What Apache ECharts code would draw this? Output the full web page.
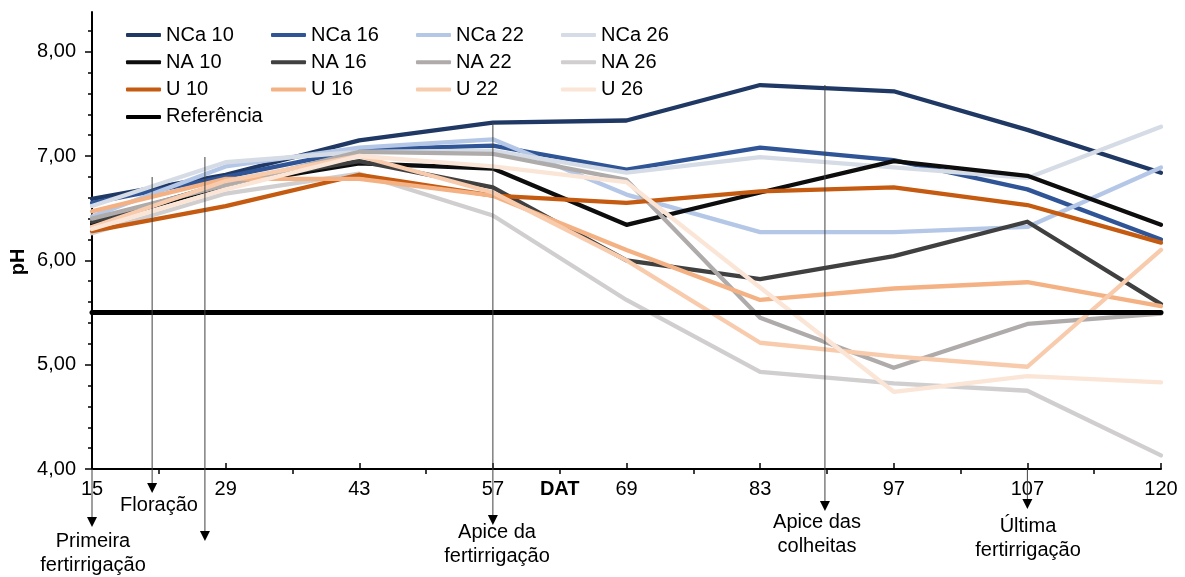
<!DOCTYPE html>
<html><head><meta charset="utf-8">
<script src="https://cdn.jsdelivr.net/npm/echarts@6/dist/echarts.min.js"></script>
<style>html,body{margin:0;padding:0;background:#fff}#c{width:1185px;height:577px}</style>
</head><body><div id="c"></div>
<script>
// ---- data ----
const tickLabels = ['15','','29','','43','','57','DAT','69','','83','','97','','107','','120'];
const days = [15, 29, 43, 57, 69, 83, 97, 107, 120];
const yTickValues = [4, 5, 6, 7, 8];

const NCa_10 = [6.59, 6.82, 7.15, 7.32, 7.34, 7.68, 7.62, 7.25, 6.84];
const NCa_16 = [6.55, 6.80, 7.06, 7.10, 6.87, 7.08, 6.96, 6.68, 6.20];
const NCa_22 = [6.42, 6.90, 7.08, 7.16, 6.63, 6.27, 6.27, 6.32, 6.89];
const NCa_26 = [6.52, 6.94, 7.04, 7.05, 6.84, 6.99, 6.89, 6.79, 7.28];
const NA_10  = [6.35, 6.72, 6.93, 6.88, 6.34, 6.65, 6.95, 6.81, 6.34];
const NA_16  = [6.37, 6.74, 6.95, 6.70, 6.00, 5.82, 6.04, 6.37, 5.58];
const NA_22  = [6.40, 6.72, 7.04, 7.02, 6.77, 5.45, 4.97, 5.39, 5.49];
const NA_26  = [6.26, 6.64, 6.83, 6.43, 5.62, 4.93, 4.82, 4.75, 4.13];
const U_10   = [6.28, 6.52, 6.82, 6.62, 6.55, 6.66, 6.70, 6.53, 6.17];
const U_16   = [6.47, 6.78, 6.78, 6.62, 6.10, 5.62, 5.73, 5.79, 5.56];
const U_22   = [6.32, 6.76, 7.00, 6.65, 6.00, 5.21, 5.08, 4.98, 6.10];
const U_26   = [6.30, 6.68, 7.00, 6.90, 6.75, 5.74, 4.74, 4.89, 4.83];
const Referencia = [5.5, 5.5, 5.5, 5.5, 5.5, 5.5, 5.5, 5.5, 5.5];

const seriesNames = ['NCa 10','NCa 16','NCa 22','NCa 26','NA 10','NA 16','NA 22','NA 26','U 10','U 16','U 22','U 26','Referência'];
const seriesValues = [NCa_10, NCa_16, NCa_22, NCa_26, NA_10, NA_16, NA_22, NA_26, U_10, U_16, U_22, U_26, Referencia];
const seriesColors = ['#1F3864','#2F5597','#B4C7E7','#D6DCE5','#0D0D0D','#404040','#AFABAB','#D0CECE','#C55A11','#F4B183','#F8CBAD','#FBE5D6','#000000'];

// annotations: x in category-index units
const annotations = [
  { x: 0,    top: null, tip: 527, text: 'Primeira\nfertirrigação', tx: 93,  ty: 553 },
  { x: 0.9,  top: 177,  tip: 493, text: 'Floração',                tx: 159, ty: 505 },
  { x: 1.69, top: 157,  tip: 541, text: '',                        tx: 0,   ty: 0 },
  { x: 6,    top: 122,  tip: 525, text: 'Apice da\nfertirrigação', tx: 497, ty: 544 },
  { x: 10.97,top: 85,   tip: 511, text: 'Apice das\ncolheitas',    tx: 817, ty: 534 },
  { x: 14,   top: null, tip: 509, text: 'Última\nfertirrigação',   tx: 1028, ty: 538 }
];

// ---- chart ----
const FONT = "'Liberation Sans', Arial, sans-serif";
const xIdx = days.map(d => tickLabels.indexOf(String(d)));
const evenIdx = tickLabels.map((_, i) => i).filter(i => i % 2 === 0);
const oddIdx = tickLabels.map((_, i) => i).filter(i => i % 2 === 1);
const allIdx = tickLabels.map((_, i) => i);
const minorY = [];
for (let k = 0; k <= 21; k++) { const v = Math.round((4 + k * 0.2) * 10) / 10; if (!yTickValues.includes(v)) minorY.push(v); }

const chart = echarts.init(document.getElementById('c'), null, { renderer: 'canvas' });

const series = seriesNames.map((n, i) => ({
  name: n,
  type: 'line',
  xAxisIndex: 0,
  yAxisIndex: 0,
  data: seriesValues[i].map((v, j) => [xIdx[j], v]),
  symbol: 'none',
  smooth: false,
  silent: true,
  lineStyle: { color: seriesColors[i], width: n === 'Referência' ? 5 : 4.3, cap: 'round', join: 'round' },
  itemStyle: { color: seriesColors[i] },
  z: 2 + i
}));

const legendCols = [
  ['NCa 10', 'NA 10', 'U 10', 'Referência'],
  ['NCa 16', 'NA 16', 'U 16'],
  ['NCa 22', 'NA 22', 'U 22'],
  ['NCa 26', 'NA 26', 'U 26']
];
const legendLeft = [126, 271, 416, 561];
const legends = legendCols.map((cols, i) => ({
  data: cols,
  orient: 'vertical',
  left: legendLeft[i],
  top: 25,
  itemGap: 7.3,
  itemWidth: 35,
  itemHeight: 4,
  icon: 'roundRect',
  selectedMode: false,
  padding: 0,
  textStyle: { fontSize: 20, lineHeight: 20, color: '#000', fontFamily: FONT }
}));

chart.setOption({
  animation: false,
  backgroundColor: '#fff',
  grid: { left: 92, right: 24, top: 12, bottom: 108, containLabel: false },
  legend: legends,
  xAxis: [
    {
      type: 'value', min: 0, max: 16, interval: 1,
      axisLine: { show: true, lineStyle: { color: '#000', width: 2 } },
      axisTick: { show: true, inside: true, length: 6, customValues: evenIdx, lineStyle: { color: '#000', width: 1.5 } },
      axisLabel: {
        customValues: allIdx, margin: 10, color: '#000', fontSize: 20, fontFamily: FONT,
        formatter: v => { const t = tickLabels[Math.round(v)] || ''; return t === 'DAT' ? '{b|DAT}' : t; },
        rich: { b: { fontWeight: 'bold', fontSize: 20, fontFamily: FONT, color: '#000' } }
      },
      splitLine: { show: false }
    },
    {
      type: 'value', min: 0, max: 16, interval: 1, position: 'bottom',
      axisLine: { show: false },
      axisTick: { show: true, inside: false, length: 5, customValues: oddIdx, lineStyle: { color: '#000', width: 1.5 } },
      axisLabel: { show: false },
      splitLine: { show: false }
    }
  ],
  yAxis: [
    {
      type: 'value', min: 4, max: 8.38, interval: 1,
      axisLine: { show: true, lineStyle: { color: '#000', width: 2 } },
      axisTick: { show: true, length: 7, customValues: yTickValues, lineStyle: { color: '#000', width: 1.5 } },
      axisLabel: {
        customValues: yTickValues, margin: 16, color: '#000', fontSize: 20, fontFamily: FONT,
        formatter: v => v.toFixed(2).replace('.', ',')
      },
      splitLine: { show: false }
    },
    {
      type: 'value', min: 4, max: 8.38, interval: 0.2, position: 'left',
      axisLine: { show: false },
      axisTick: { show: true, length: 4, customValues: minorY, lineStyle: { color: '#000', width: 1.5 } },
      axisLabel: { show: false },
      splitLine: { show: false }
    }
  ],
  series: series
});

// ---- annotations ----
const gfx = [];
const axisY = chart.convertToPixel({ yAxisIndex: 0 }, 4);
annotations.forEach(a => {
  const x = chart.convertToPixel({ xAxisIndex: 0 }, a.x);
  const top = a.top == null ? axisY : a.top;
  gfx.push({ type: 'line', shape: { x1: x, y1: top, x2: x, y2: a.tip - 9 }, style: { stroke: '#404040', lineWidth: 1 }, z: 50, silent: true });
  gfx.push({ type: 'polygon', shape: { points: [[x - 5, a.tip - 10], [x + 5, a.tip - 10], [x, a.tip]] }, style: { fill: '#000' }, z: 50, silent: true });
  if (a.text) {
    gfx.push({ type: 'text', x: a.tx, y: a.ty, z: 51, silent: true,
      style: { text: a.text, fontSize: 20, lineHeight: 24, fontFamily: FONT, fill: '#000', align: 'center', verticalAlign: 'middle' } });
  }
});
gfx.push({ type: 'text', x: 18, y: 262, rotation: Math.PI / 2, silent: true,
  style: { text: 'pH', fontSize: 20, fontWeight: 'bold', fontFamily: FONT, fill: '#000', align: 'center', verticalAlign: 'middle' } });
chart.setOption({ graphic: gfx });
</script>
</body></html>
